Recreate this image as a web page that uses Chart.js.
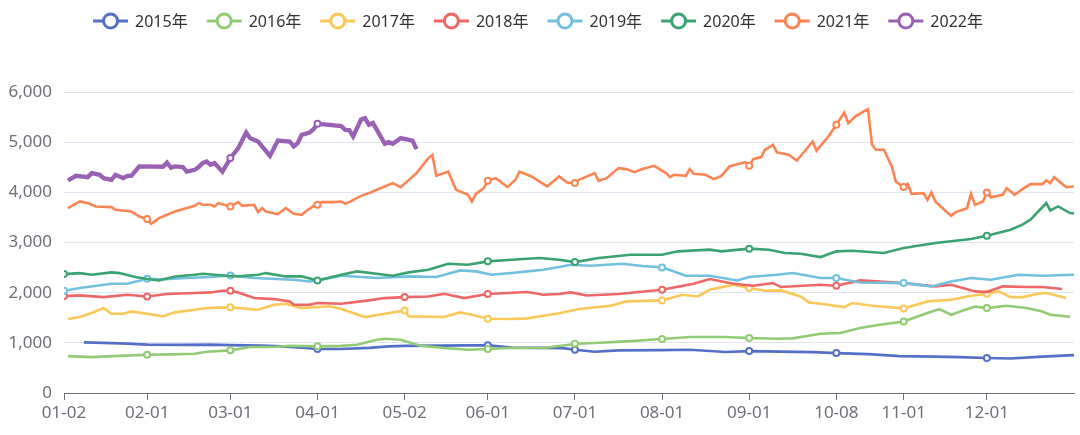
<!DOCTYPE html>
<html>
<head>
<meta charset="utf-8">
<script src="https://cdn.jsdelivr.net/npm/chart.js@4.4.1/dist/chart.umd.min.js"></script>
<style>
  html, body { margin: 0; padding: 0; background: #fff; }
  #wrap { width: 1080px; height: 435px; position: relative; }
</style>
</head>
<body>
<div id="wrap"><canvas id="chart"></canvas></div>
<script>
// x = trading-day index within the year, y = price
const years = ['2015年', '2016年', '2017年', '2018年', '2019年', '2020年', '2021年', '2022年'];
const colors = ['#5470c6', '#91cc75', '#fac858', '#ee6666', '#73c0de', '#3ba272', '#fc8452', '#9a60b4'];

const tickDays = [0, 21, 42, 64, 86, 107, 129, 151, 173, 195, 212, 233];
const tickLabels = ['01-02', '02-01', '03-01', '04-01', '05-02', '06-01', '07-01', '08-01', '09-01', '10-08', '11-01', '12-01'];

const s2015 = [[5,1010],[10,1000],[16,985],[21,965],[30,960],[37,965],[42,955],[50,945],[55,930],[60,905],[64,876],[70,876],[77,900],[82,930],[86,940],[95,945],[101,950],[107,950],[113,905],[121,900],[126,895],[129,862],[134,822],[140,850],[151,855],[158,862],[167,818],[173,835],[181,825],[189,815],[195,795],[203,775],[211,735],[220,725],[226,715],[233,697],[239,688],[247,725],[255,755]];
const s2016 = [[1,735],[7,716],[14,740],[21,763],[27,770],[33,783],[36,823],[42,850],[47,916],[53,916],[57,942],[64,930],[70,940],[74,962],[79,1062],[81,1082],[85,1062],[90,942],[96,896],[102,862],[107,876],[112,896],[121,896],[127,956],[129,982],[134,996],[142,1029],[151,1076],[158,1115],[167,1115],[173,1096],[180,1082],[184,1089],[191,1182],[196,1195],[201,1295],[206,1360],[212,1426],[218,1594],[221,1673],[224,1560],[227,1646],[230,1725],[233,1693],[238,1739],[243,1693],[247,1626],[249,1560],[254,1520]];
const s2017 = [[1,1474],[4,1514],[7,1594],[10,1693],[12,1580],[15,1580],[17,1626],[21,1580],[25,1527],[28,1607],[33,1660],[36,1693],[42,1707],[49,1660],[53,1760],[56,1779],[60,1693],[64,1713],[67,1730],[70,1673],[76,1514],[81,1580],[86,1646],[87,1527],[96,1514],[100,1607],[103,1560],[107,1480],[113,1474],[117,1487],[121,1540],[125,1590],[130,1673],[138,1740],[142,1826],[151,1846],[156,1959],[160,1925],[163,2058],[167,2125],[169,2158],[173,2092],[177,2038],[181,2045],[186,1925],[188,1806],[191,1779],[197,1713],[199,1793],[204,1740],[212,1686],[218,1826],[224,1859],[229,1939],[233,1979],[236,2025],[239,1912],[242,1912],[246,1979],[248,1992],[253,1892]];
const s2018 = [[0,1932],[4,1945],[10,1912],[16,1959],[21,1925],[26,1972],[33,1992],[37,2005],[40,2038],[42,2038],[44,2005],[48,1892],[53,1872],[57,1826],[58,1760],[62,1760],[64,1793],[70,1779],[77,1846],[81,1892],[86,1912],[92,1925],[96,1979],[101,1892],[107,1972],[117,2012],[121,1959],[125,1972],[128,2005],[132,1945],[140,1972],[151,2058],[159,2178],[163,2271],[169,2178],[174,2138],[179,2191],[181,2112],[191,2158],[195,2138],[201,2244],[212,2191],[220,2125],[224,2158],[230,2025],[233,2012],[237,2125],[243,2112],[247,2112],[252,2072]];
const s2019 = [[0,2038],[4,2092],[12,2178],[16,2178],[21,2277],[24,2264],[31,2291],[37,2311],[42,2344],[48,2291],[58,2257],[62,2224],[65,2257],[70,2337],[79,2291],[87,2324],[94,2311],[100,2444],[104,2424],[108,2357],[113,2391],[117,2424],[121,2457],[125,2510],[128,2557],[133,2537],[141,2577],[146,2530],[151,2504],[157,2337],[163,2337],[170,2244],[173,2311],[180,2357],[184,2391],[191,2291],[195,2291],[201,2204],[212,2191],[219,2125],[224,2224],[229,2291],[234,2257],[241,2357],[247,2337],[255,2357]];
const s2020 = [[0,2370],[4,2390],[7,2357],[12,2404],[14,2390],[18,2311],[21,2271],[24,2244],[28,2324],[33,2357],[35,2377],[41,2337],[44,2324],[49,2357],[51,2390],[56,2324],[60,2324],[64,2244],[70,2357],[74,2424],[83,2337],[87,2404],[92,2457],[97,2577],[102,2557],[107,2624],[113,2657],[120,2690],[125,2657],[129,2610],[135,2690],[143,2757],[151,2757],[155,2824],[163,2857],[166,2824],[173,2877],[178,2857],[182,2790],[186,2777],[191,2710],[195,2824],[199,2837],[207,2790],[212,2890],[220,2990],[229,3070],[233,3135],[239,3255],[242,3356],[244,3455],[248,3787],[249,3640],[251,3720],[254,3587],[255,3580]];
const s2021 = [[1,3686],[4,3818],[6,3785],[8,3718],[12,3705],[13,3652],[17,3618],[19,3519],[21,3466],[22,3372],[24,3486],[26,3552],[28,3618],[33,3731],[34,3785],[35,3751],[37,3751],[38,3718],[39,3785],[42,3718],[44,3805],[45,3731],[48,3751],[49,3605],[50,3686],[51,3618],[54,3565],[56,3686],[58,3572],[60,3552],[61,3618],[63,3731],[64,3751],[65,3805],[68,3805],[70,3818],[71,3771],[72,3805],[75,3930],[77,3985],[79,4050],[83,4184],[85,4104],[89,4383],[92,4682],[93,4748],[94,4329],[97,4414],[99,4050],[102,3950],[103,3818],[104,3970],[106,4084],[107,4230],[109,4283],[112,4104],[114,4250],[115,4414],[118,4316],[122,4117],[124,4250],[125,4316],[127,4197],[129,4184],[130,4250],[134,4383],[135,4230],[137,4283],[140,4483],[142,4463],[144,4403],[146,4463],[149,4529],[152,4383],[153,4303],[154,4350],[157,4329],[158,4463],[159,4369],[162,4350],[164,4263],[166,4329],[168,4516],[170,4560],[172,4602],[173,4529],[174,4662],[176,4702],[177,4848],[179,4947],[180,4795],[183,4748],[185,4635],[188,4913],[189,5013],[190,4827],[191,4927],[193,5113],[195,5346],[197,5591],[198,5379],[200,5525],[203,5658],[204,4947],[205,4848],[207,4848],[209,4516],[210,4216],[212,4104],[213,4170],[214,3970],[217,3985],[218,3851],[219,3997],[220,3818],[223,3599],[224,3532],[225,3600],[228,3685],[229,3970],[230,3751],[232,3818],[233,3997],[234,3900],[237,3950],[238,4084],[240,3950],[242,4064],[244,4163],[247,4163],[248,4236],[249,4183],[250,4303],[253,4104],[255,4117]];
const s2022 = [[1,4236],[3,4329],[6,4303],[7,4383],[9,4350],[10,4283],[12,4250],[13,4350],[15,4283],[16,4329],[17,4329],[19,4516],[25,4510],[26,4595],[27,4490],[28,4516],[30,4503],[31,4413],[33,4450],[34,4503],[35,4582],[36,4615],[37,4550],[38,4582],[40,4413],[42,4682],[44,4880],[46,5192],[47,5080],[49,5013],[52,4728],[53,4880],[54,5032],[57,5013],[58,4913],[59,4980],[60,5146],[62,5192],[63,5259],[64,5365],[67,5346],[70,5320],[71,5246],[72,5240],[73,5113],[75,5450],[76,5478],[77,5346],[78,5380],[81,4967],[82,5000],[83,4967],[85,5080],[88,5030],[89,4860]];

const series = [s2015, s2016, s2017, s2018, s2019, s2020, s2021, s2022];

// which month ticks show a hollow marker on each line
const marked = [
    ['04-01', '06-01', '07-01', '09-01', '10-08', '12-01'],
    ['02-01', '03-01', '04-01', '06-01', '07-01', '08-01', '09-01', '11-01', '12-01'],
    ['03-01', '05-02', '06-01', '08-01', '09-01', '11-01', '12-01'],
    ['01-02', '02-01', '03-01', '05-02', '06-01', '08-01', '10-08'],
    ['01-02', '02-01', '03-01', '08-01', '10-08', '11-01'],
    ['01-02', '04-01', '06-01', '07-01', '09-01', '12-01'],
    ['02-01', '03-01', '04-01', '06-01', '07-01', '09-01', '10-08', '11-01', '12-01'],
    ['03-01', '04-01'],
];

const fontFamily = '"Noto Sans", "Noto Sans CJK SC", sans-serif';

const topLegend = {
    id: 'topLegend',
    afterDraw(chart) {
        const c = chart.ctx;
        c.save();
        c.font = '16px ' + fontFamily;
        const iconW = 35, textGap = 7, itemGap = 19;
        const sets = chart.data.datasets;
        const widths = sets.map(d => c.measureText(d.label).width);
        const total = widths.reduce((a, w) => a + iconW + textGap + w, 0) + itemGap * (sets.length - 1);
        let x = 538 - total / 2;
        const y = 21;
        sets.forEach((d, i) => {
            c.strokeStyle = d.borderColor;
            c.lineWidth = 3;
            c.beginPath();
            c.moveTo(x, y);
            c.lineTo(x + iconW, y);
            c.stroke();
            c.beginPath();
            c.arc(x + iconW / 2, y, 7, 0, Math.PI * 2);
            c.fillStyle = '#fff';
            c.fill();
            c.stroke();
            c.fillStyle = '#333';
            c.textBaseline = 'middle';
            c.textAlign = 'left';
            c.fillText(d.label, x + iconW + textGap, y + 1);
            x += iconW + textGap + widths[i] + itemGap;
        });
        c.restore();
    }
};

const datasets = series.map((s, i) => {
    const marks = marked[i].map(l => tickDays[tickLabels.indexOf(l)]);
    return {
        label: years[i],
        data: s.map(([x, y]) => ({ x, y })),
        borderColor: colors[i],
        backgroundColor: colors[i],
        borderWidth: i === 7 ? 4.3 : 2.6,
        tension: 0,
        pointRadius: ctx => (ctx.raw && marks.includes(ctx.raw.x)) ? 3 : 0,
        pointBorderWidth: 2,
        pointBackgroundColor: '#fff',
        pointBorderColor: colors[i],
        order: 7 - i,
    };
});

new Chart(document.getElementById('chart'), {
    type: 'line',
    data: { datasets },
    options: {
        responsive: true,
        maintainAspectRatio: false,
        animation: false,
        layout: { padding: { top: 92, right: 6, left: 0, bottom: 0 } },
        plugins: {
            legend: { display: false },
            tooltip: { enabled: false },
        },
        scales: {
            x: {
                type: 'linear',
                min: 0,
                max: 255,
                afterBuildTicks: scale => { scale.ticks = tickDays.map(v => ({ value: v })); },
                afterFit: scale => { scale.height = 42; },
                ticks: {
                    autoSkip: false,
                    maxRotation: 0,
                    padding: 3,
                    color: '#6e7079',
                    font: { family: fontFamily, size: 17 },
                    callback: v => tickLabels[tickDays.indexOf(v)],
                },
                grid: { drawOnChartArea: false, drawTicks: true, tickLength: 7, color: '#6e7079' },
                border: { display: true, color: '#6e7079', width: 1 },
            },
            y: {
                min: 0,
                max: 6000,
                afterFit: scale => { scale.width = 64; },
                ticks: {
                    stepSize: 1000,
                    padding: 12,
                    color: '#6e7079',
                    font: { family: fontFamily, size: 17 },
                    callback: v => v.toLocaleString('en-US'),
                },
                grid: { color: '#e0e6f1', drawTicks: false },
                border: { display: false },
            },
        },
    },
    plugins: [topLegend],
});
</script>
</body>
</html>
